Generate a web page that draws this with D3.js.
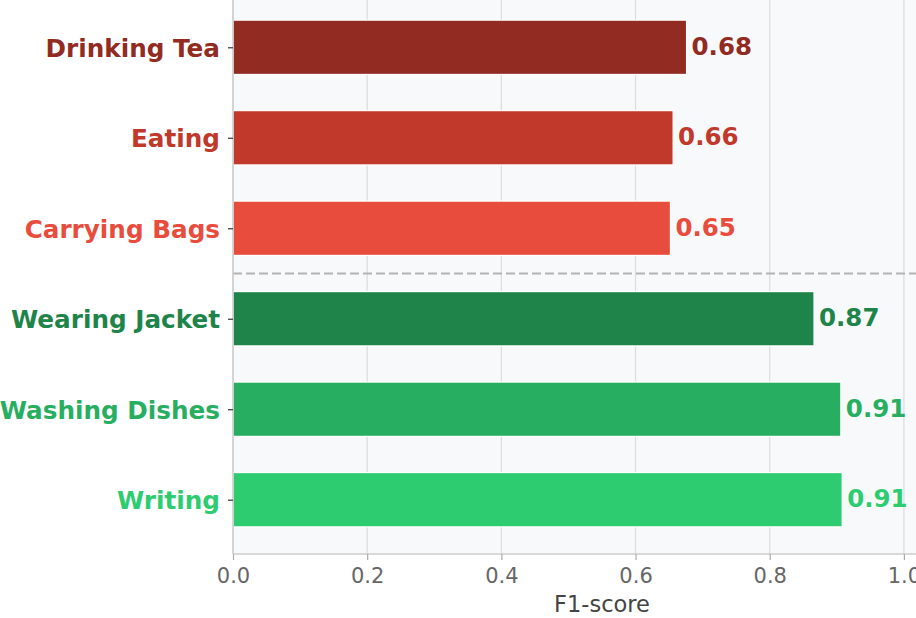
<!DOCTYPE html>
<html>
<head>
<meta charset="utf-8">
<script src="https://cdn.jsdelivr.net/npm/d3@7"></script>
<style>
  html, body { margin: 0; padding: 0; background: #ffffff; }
  svg { display: block; }
</style>
</head>
<body>
<svg id="chart" width="916" height="618"></svg>
<script>
const categories = ["Drinking Tea", "Eating", "Carrying Bags", "Wearing Jacket", "Washing Dishes", "Writing"];
const f1Scores = [0.676, 0.656, 0.652, 0.866, 0.906, 0.908];
const barColors = ["#922b21", "#c0392b", "#e74c3c", "#1e8449", "#27ae60", "#2ecc71"];
const xTicks = [0.0, 0.2, 0.4, 0.6, 0.8, 1.0];
const xLabel = "F1-score";
const separatorAfter = 2.5;

(function () {
const svg = d3.select("#chart");
const pLeft = 233, pRight = 971, pTop = -7, pBottom = 554;

const x = d3.scaleLinear().domain([0, 1.1]).range([pLeft, pRight]);
const y = d3.scaleLinear().domain([-0.6, 5.6]).range([pTop, pBottom]);
const barH = y(0.6) - y(0);

// plot background
svg.append("rect")
  .attr("x", pLeft).attr("y", pTop)
  .attr("width", pRight - pLeft).attr("height", pBottom - pTop)
  .attr("fill", "#f8f9fa");

// vertical grid
svg.append("g").selectAll("line").data(xTicks).join("line")
  .attr("x1", d => x(d)).attr("x2", d => x(d))
  .attr("y1", pTop).attr("y2", pBottom)
  .attr("stroke", "#dcdcdc").attr("stroke-width", 1.2);

// separator dashed line
svg.append("line")
  .attr("x1", pLeft).attr("x2", pRight)
  .attr("y1", y(separatorAfter)).attr("y2", y(separatorAfter))
  .attr("stroke", "#b3b3b3").attr("stroke-width", 2)
  .attr("stroke-dasharray", "9,4");

// bars
svg.append("g").selectAll("rect").data(f1Scores).join("rect")
  .attr("x", x(0))
  .attr("y", (d, i) => y(i) - barH / 2)
  .attr("width", d => x(d) - x(0))
  .attr("height", barH)
  .attr("fill", (d, i) => barColors[i])
  .attr("stroke", "#ffffff").attr("stroke-width", 1.2);

// value labels
svg.append("g").selectAll("text").data(f1Scores).join("text")
  .attr("x", d => x(d) + 5)
  .attr("y", (d, i) => y(i))
  .attr("dy", "0.3em")
  .attr("font-family", "DejaVu Sans")
  .attr("font-weight", "bold")
  .attr("font-size", 24.5)
  .attr("fill", (d, i) => barColors[i])
  .text(d => d.toFixed(2));

// spines
svg.append("line").attr("x1", pLeft).attr("x2", pLeft).attr("y1", pTop).attr("y2", pBottom)
  .attr("stroke", "#cccccc").attr("stroke-width", 1.5);
svg.append("line").attr("x1", pLeft).attr("x2", pRight).attr("y1", pBottom).attr("y2", pBottom)
  .attr("stroke", "#cccccc").attr("stroke-width", 1.5);

// x axis
const xAxis = d3.axisBottom(x).tickValues(xTicks).tickFormat(d3.format(".1f")).tickSize(6).tickPadding(8);
const gx = svg.append("g").attr("transform", `translate(0,${pBottom})`).call(xAxis);
gx.select(".domain").remove();
gx.selectAll(".tick line").attr("stroke", "#aaaaaa").attr("stroke-width", 1.2);
gx.selectAll(".tick text")
  .attr("font-family", "DejaVu Sans").attr("font-size", 21).attr("fill", "#666666");

// y axis
const yAxis = d3.axisLeft(y).tickValues(d3.range(categories.length)).tickFormat(i => categories[i]).tickSize(5).tickPadding(8);
const gy = svg.append("g").attr("transform", `translate(${pLeft},0)`).call(yAxis);
gy.select(".domain").remove();
gy.selectAll(".tick line").attr("stroke", "#333333").attr("stroke-width", 1.2);
gy.selectAll(".tick text")
  .attr("dy", "0.36em")
  .attr("font-family", "DejaVu Sans").attr("font-weight", "bold").attr("font-size", 24.7)
  .attr("fill", (d, i) => barColors[i]);

// x label
svg.append("text")
  .attr("x", (pLeft + pRight) / 2).attr("y", 612)
  .attr("text-anchor", "middle")
  .attr("font-family", "DejaVu Sans").attr("font-size", 22.5).attr("fill", "#444444")
  .text(xLabel);
})();
</script>
</body>
</html>
